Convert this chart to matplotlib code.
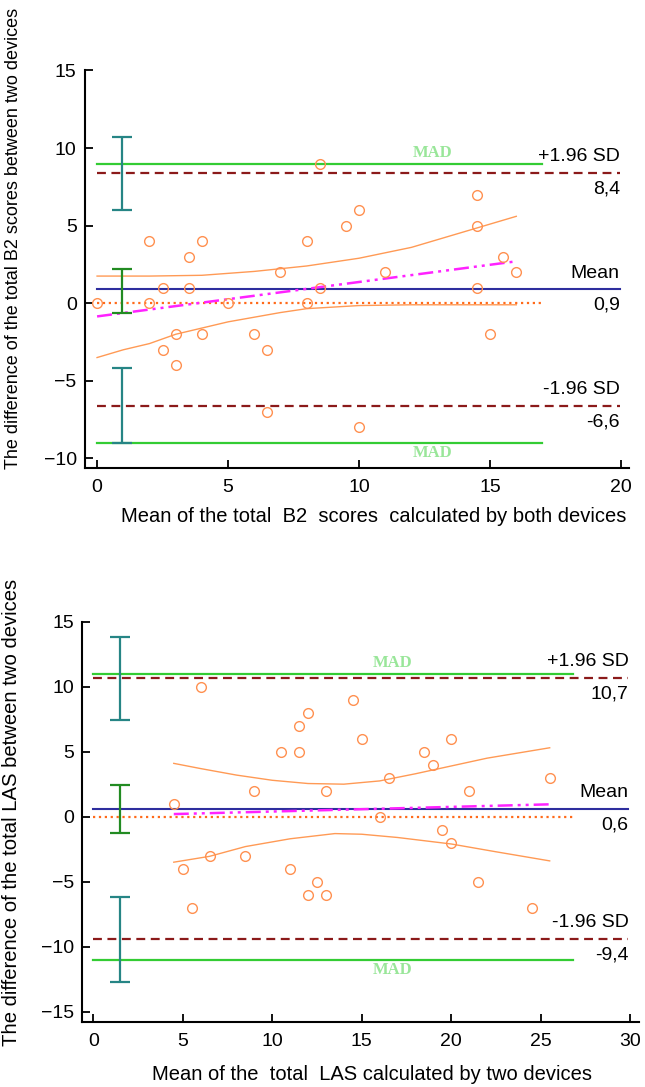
''' Bland-Altman plots for the B2 and LAS scores of two devices.
'''

import matplotlib
matplotlib.use('Agg')
import matplotlib.pyplot as plt


plt.rcParams['font.family'] = ['Liberation Sans', 'DejaVu Sans']

# --- B2 scores (top panel) ---
b2_mean = [0, 2, 2, 2.5, 2.5, 3, 3, 3.5, 3.5, 4, 4, 5, 6, 6.5, 6.5, 7, 8, 8,
           8.5, 8.5, 9.5, 10, 10, 11, 14.5, 14.5, 14.5, 15, 15.5, 16]
b2_diff = [0, 4, 0, 1, -3, -2, -4, 3, 1, 4, -2, 0, -2, -3, -7, 2, 4, 0,
           9, 1, 5, 6, -8, 2, 7, 5, 1, -2, 3, 2]
b2_upper_x = [0, 2, 4, 6, 8, 10, 12, 14, 16]
b2_upper_y = [1.75, 1.75, 1.8, 2.05, 2.4, 2.9, 3.6, 4.6, 5.6]
b2_lower_x = [0, 1, 2, 3, 4, 5, 6, 7, 8, 10, 12, 14, 16]
b2_lower_y = [-3.5, -3.0, -2.6, -2.0, -1.6, -1.2, -0.9, -0.6, -0.35, -0.15, -0.1, -0.1, -0.1]
b2_reg_x = [0, 16]
b2_reg_y = [-0.85, 2.7]
b2_sd_hi, b2_bias, b2_sd_lo = 8.4, 0.9, -6.6
b2_mad = 9
b2_labels = ['8,4', '0,9', '-6,6']
b2_bar_x = 0.95
b2_bars = [(6.0, 10.7), (-0.6, 2.2), (-9.0, -4.2)]

# --- LAS (bottom panel) ---
las_mean = [4.5, 5, 5.5, 6, 6.5, 8.5, 9, 10.5, 11, 11.5, 11.5, 12, 12, 12.5, 13, 13,
            14.5, 15, 16, 16.5, 18.5, 19, 19.5, 20, 20, 21, 21.5, 24.5, 25.5]
las_diff = [1, -4, -7, 10, -3, -3, 2, 5, -4, 7, 5, 8, -6, -5, -6, 2,
            9, 6, 0, 3, 5, 4, -1, 6, -2, 2, -5, -7, 3]
las_upper_x = [4.5, 6, 8, 10, 12, 14, 16, 18, 20, 22, 25.5]
las_upper_y = [4.1, 3.7, 3.2, 2.8, 2.55, 2.5, 2.75, 3.3, 3.9, 4.5, 5.3]
las_lower_x = [4.5, 6.5, 8.5, 11, 13.5, 15, 17, 20, 22.5, 25.5]
las_lower_y = [-3.5, -3.05, -2.3, -1.7, -1.3, -1.35, -1.6, -2.1, -2.7, -3.4]
las_reg_x = [4.5, 25.5]
las_reg_y = [0.2, 0.95]
las_sd_hi, las_bias, las_sd_lo = 10.7, 0.6, -9.4
las_mad = 11
las_labels = ['10,7', '0,6', '-9,4']
las_bar_x = 1.5
las_bars = [(7.4, 13.8), (-1.25, 2.45), (-12.7, -6.2)]


def draw_panel(ax, mean, diff, upper, lower, reg, limits, labels, mad,
               bars, bar_x, line_end, mad_end, mad_x, xlim, ylim, xticks, yticks):
    sd_hi, bias, sd_lo = limits

    # agreement limits and mean
    ax.plot([0, mad_end], [mad, mad], '-', color='#33cc33', lw=1.6)
    ax.plot([0, mad_end], [-mad, -mad], '-', color='#33cc33', lw=1.6)
    ax.plot([0, line_end], [sd_hi, sd_hi], '--', color='#8b1a1a', lw=1.6, dashes=(4, 2.5))
    ax.plot([0, line_end], [sd_lo, sd_lo], '--', color='#8b1a1a', lw=1.6, dashes=(4, 2.5))
    ax.plot([0, line_end], [bias, bias], '-', color='#2e2e9e', lw=1.5)
    ax.plot([0, mad_end], [0, 0], ':', color='#ff6a1a', lw=1.6)

    # confidence band and regression line
    ax.plot(*upper, '-', color='#ff9a55', lw=1.0)
    ax.plot(*lower, '-', color='#ff9a55', lw=1.0)
    ax.plot(*reg, color='#ff22ff', lw=1.8, dashes=(6, 2, 1.2, 2, 1.2, 2))

    ax.plot(mean, diff, 'o', mfc='none', mec='#ff9050', ms=7, mew=1.0)

    # confidence intervals of the limits
    for (lo, hi), col in zip(bars, ['#268585', '#228b22', '#268585']):
        ax.errorbar([bar_x], [(lo + hi) / 2], yerr=[[(hi - lo) / 2], [(hi - lo) / 2]],
                    fmt='none', ecolor=col, elinewidth=1.6, capsize=7, capthick=1.6)

    for y, name, val in [(sd_hi, '+1.96 SD', labels[0]), (bias, 'Mean', labels[1]),
                         (sd_lo, '-1.96 SD', labels[2])]:
        ax.annotate(name, (line_end, y), xytext=(0, 11.5), textcoords='offset points',
                    ha='right', va='center', fontsize=14)
        ax.annotate(val, (line_end, y), xytext=(0, -11.5), textcoords='offset points',
                    ha='right', va='center', fontsize=14)

    mad_kw = dict(ha='center', va='center', fontsize=12, color='#99e699',
                  family='Liberation Serif', weight='bold', textcoords='offset points')
    ax.annotate('MAD', (mad_x, mad), xytext=(0, 7.5), **mad_kw)
    ax.annotate('MAD', (mad_x, -mad), xytext=(0, -7.5), **mad_kw)

    ax.set_xlim(*xlim)
    ax.set_ylim(*ylim)
    ax.set_xticks(xticks)
    ax.set_yticks(yticks)
    ax.spines['top'].set_visible(False)
    ax.spines['right'].set_visible(False)
    for s in ['left', 'bottom']:
        ax.spines[s].set_linewidth(1.5)
    ax.tick_params(direction='in', length=6, width=1.3, labelsize=14)
    ax.tick_params(axis='x', pad=8)
    ax.tick_params(axis='y', pad=6)


fig = plt.figure(figsize=(6.45, 10.87), dpi=100)

ax1 = fig.add_axes([0.1318, 0.5697, 0.8433, 0.3655])
draw_panel(ax1, b2_mean, b2_diff, (b2_upper_x, b2_upper_y), (b2_lower_x, b2_lower_y),
           (b2_reg_x, b2_reg_y), (b2_sd_hi, b2_bias, b2_sd_lo), b2_labels, b2_mad,
           b2_bars, b2_bar_x, line_end=19.95, mad_end=17, mad_x=12.8,
           xlim=(-0.46, 20.3), ylim=(-10.6, 15), xticks=range(0, 21, 5),
           yticks=range(-10, 16, 5))

ax2 = fig.add_axes([0.1276, 0.0597, 0.8634, 0.3684])
draw_panel(ax2, las_mean, las_diff, (las_upper_x, las_upper_y), (las_lower_x, las_lower_y),
           (las_reg_x, las_reg_y), (las_sd_hi, las_bias, las_sd_lo), las_labels, las_mad,
           las_bars, las_bar_x, line_end=29.9, mad_end=26.8, mad_x=16.7,
           xlim=(-0.61, 30.5), ylim=(-15.8, 15), xticks=range(0, 31, 5),
           yticks=range(-15, 16, 5))

fig.text(0.579, 1 - 516.7 / 1087, 'Mean of the total  B2  scores  calculated by both devices',
         ha='center', va='center', fontsize=14.5)
fig.text(0.577, 1 - 1075 / 1087, 'Mean of the  total  LAS calculated by two devices',
         ha='center', va='center', fontsize=14.5)
fig.text(14 / 645, 1 - 238 / 1087, 'The difference of the total B2 scores between two devices',
         rotation=90, ha='center', va='center', fontsize=13)
fig.text(12 / 645, 1 - 812 / 1087, 'The difference of the total LAS between two devices',
         rotation=90, ha='center', va='center', fontsize=14.6)

fig.savefig('out.png', dpi=100)
